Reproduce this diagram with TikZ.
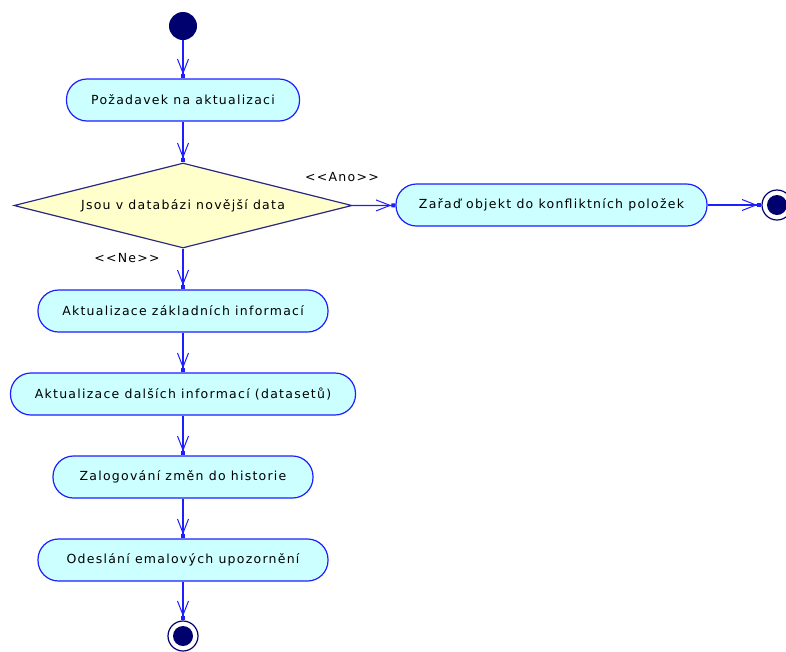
\documentclass[tikz,border=0pt]{standalone}
\usepackage{fontspec}
\setmainfont{DejaVu Sans}[Ligatures=NoCommon]
\newfontfamily\diafont{DejaVu Sans}[LetterSpace=10]
\usetikzlibrary{shapes.geometric,arrows.meta}
\definecolor{lineblue}{RGB}{30,30,255}
\definecolor{navy}{RGB}{0,0,110}
\definecolor{boxfill}{RGB}{204,255,255}
\definecolor{dfill}{RGB}{255,255,204}
\definecolor{dline}{RGB}{40,40,130}
\tikzset{
  txt/.style={font=\diafont\fontsize{12.5}{14}\selectfont},
  act/.style={txt, draw=lineblue, fill=boxfill, rounded corners=20.5pt, minimum height=42pt, inner sep=0pt, line width=1.2pt},
  dec/.style={txt, draw=dline, fill=dfill, diamond, inner sep=0pt, aspect=4, minimum width=338pt, minimum height=85pt, line width=1.2pt},
  flow/.style={draw=lineblue, line width=1.2pt, -{Straight Barb[length=14pt,width=11pt,line width=1pt]Square[length=4pt,width=4pt]}},
  startdot/.style={circle, fill=navy, minimum size=28pt, inner sep=0pt},
  enddot/.style={circle, draw=navy, fill=white, minimum size=30pt, inner sep=0pt, line width=1.2pt, path picture={\fill[navy] (path picture bounding box.center) circle (10pt);}},
  lbl/.style={txt, inner sep=0pt}
}
\begin{document}
\begin{tikzpicture}[x=1pt,y=-1pt]
\useasboundingbox (0,0) rectangle (786,651);
\node[startdot] (s) at (183,26) {};
\node[act, minimum width=233pt] (n1) at (183,100) {Požadavek na aktualizaci};
\node[dec] (d) at (183,205.5) {Jsou v databázi novější data};
\node[act, minimum width=311pt] (z) at (551.5,205) {Zařaď objekt do konfliktních položek};
\node[enddot] (e1) at (777,205) {};
\node[act, minimum width=290pt] (n2) at (183,311) {Aktualizace základních informací};
\node[act, minimum width=345pt] (n3) at (183,394) {Aktualizace dalších informací (datasetů)};
\node[act, minimum width=260pt] (n4) at (183,477) {Zalogování změn do historie};
\node[act, minimum width=290pt] (n5) at (183,560) {Odeslání emalových upozornění};
\node[enddot] (e2) at (183,636) {};
\node[lbl] (ano) at (342,177) {<{}<Ano>{}>};
\node[lbl] (ne) at (127,258) {<{}<Ne>{}>};
\draw[flow] (s) -- (n1);
\draw[flow] (n1) -- (d.north);
\draw[flow] (d.east) -- (z);
\draw[flow] (z) -- (e1);
\draw[flow] (d.south) -- (n2);
\draw[flow] (n2) -- (n3);
\draw[flow] (n3) -- (n4);
\draw[flow] (n4) -- (n5);
\draw[flow] (n5) -- (e2);
\end{tikzpicture}
\end{document}
